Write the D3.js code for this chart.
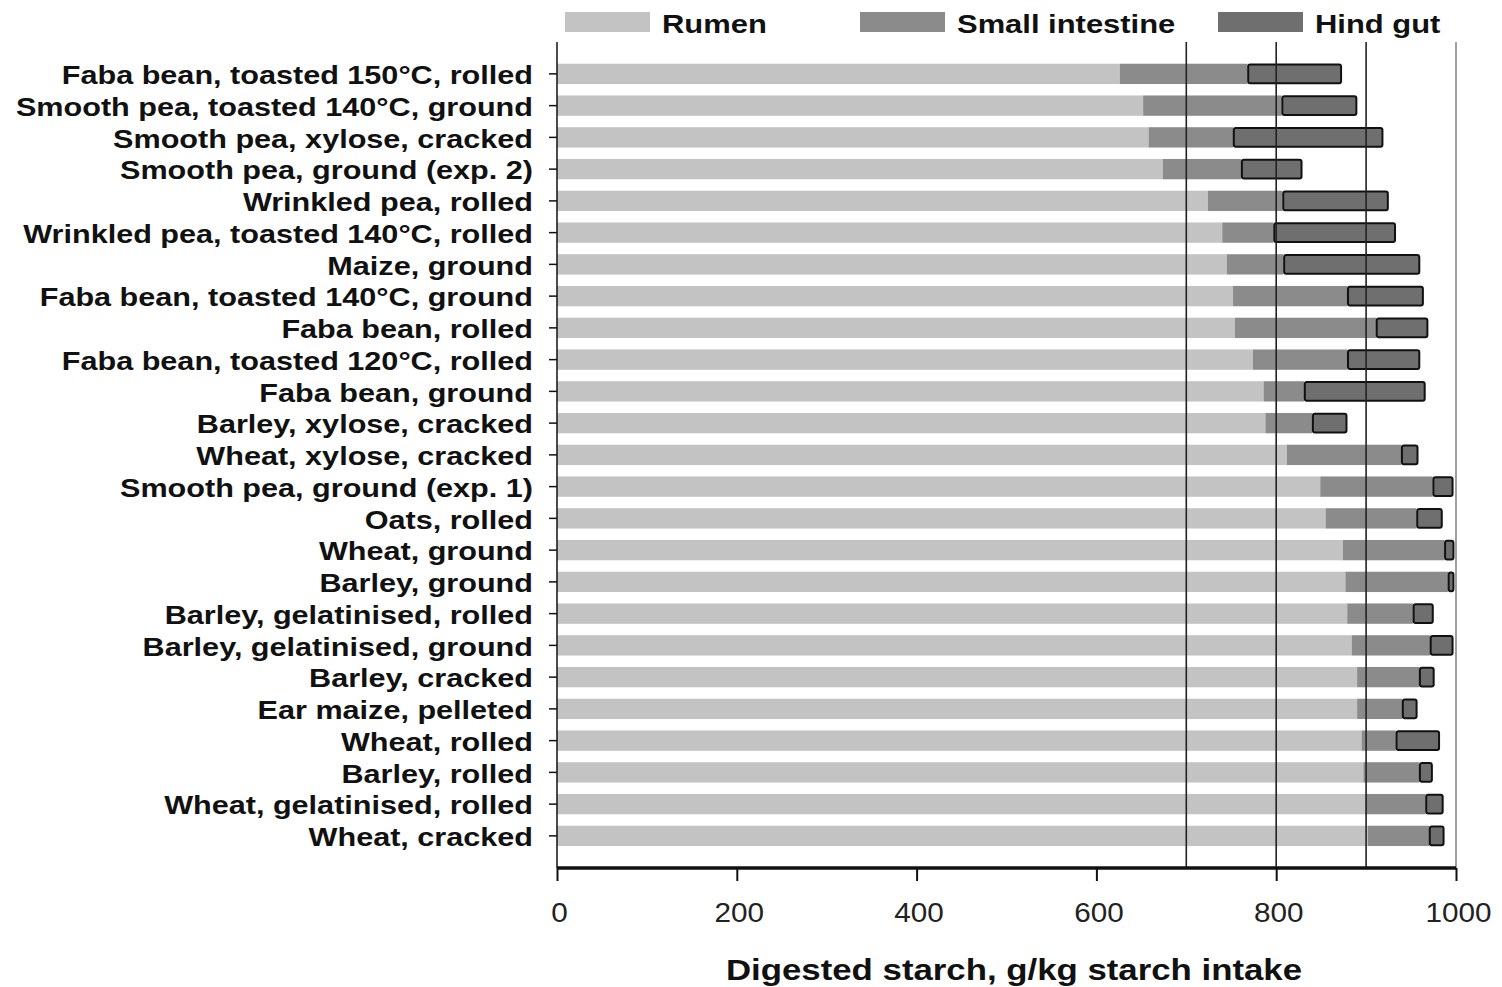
<!DOCTYPE html>
<html><head><meta charset="utf-8">
<script src="https://cdn.jsdelivr.net/npm/d3@7"></script>
<style>body{margin:0;background:#fff;font-family:"Liberation Sans",Arial,sans-serif}</style>
</head><body><svg id="c" width="1502" height="987"></svg>
<script>
const categories = ["Faba bean, toasted 150°C, rolled","Smooth pea, toasted 140°C, ground","Smooth pea, xylose, cracked","Smooth pea, ground (exp. 2)","Wrinkled pea, rolled","Wrinkled pea, toasted 140°C, rolled","Maize, ground","Faba bean, toasted 140°C, ground","Faba bean, rolled","Faba bean, toasted 120°C, rolled","Faba bean, ground","Barley, xylose, cracked","Wheat, xylose, cracked","Smooth pea, ground (exp. 1)","Oats, rolled","Wheat, ground","Barley, ground","Barley, gelatinised, rolled","Barley, gelatinised, ground","Barley, cracked","Ear maize, pelleted","Wheat, rolled","Barley, rolled","Wheat, gelatinised, rolled","Wheat, cracked"];
const rumen = [626,652,658,674,724,740,745,752,754,774,786,788,812,849,855,874,877,879,884,890,890,895,897,899,902];
const smallIntestine = [142,154,94,87,83,57,63,127,157,105,45,52,127,125,101,113,114,73,87,69,50,38,62,67,68];
const hindGut = [105,84,167,68,118,136,152,85,58,81,135,39,19,23,29,11,7,23,26,17,17,49,15,20,17];
const seriesNames = ["Rumen","Small intestine","Hind gut"];
const xTicks = [0,200,400,600,800,1000];
const refLines = [700,800,900];

const colors = ["#c3c3c3","#8b8b8b","#6f6f6f"];
const FONT = "'Liberation Sans',Arial,sans-serif";
const svg = d3.select("#c");
const x = d3.scaleLinear().domain([0,1000]).range([557,1456]);
const y = d3.scaleBand().domain(categories).range([58,851.75]).paddingInner(0.36).paddingOuter(0.18);

const rows = categories.map((c,i)=>({cat:c,"Rumen":rumen[i],"Small intestine":smallIntestine[i],"Hind gut":hindGut[i]}));
const stacked = d3.stack().keys(seriesNames)(rows);

stacked.forEach((s,si)=>{
  svg.append("g").selectAll("rect").data(s).join("rect")
    .attr("x",d=>x(d[0]) + (si===2?0.75:0))
    .attr("y",d=>y(d.data.cat) + (si===2?0.75:0))
    .attr("width",d=>Math.max(0,x(d[1])-x(d[0]) - (si===2?1.5:0)))
    .attr("height",y.bandwidth() - (si===2?1.5:0))
    .attr("rx",si===2?2:0)
    .attr("fill",colors[si])
    .attr("stroke",si===2?"#111":"none")
    .attr("stroke-width",si===2?2:0);
});

// reference lines
svg.append("g").selectAll("line").data(refLines).join("line")
  .attr("x1",d=>x(d)).attr("x2",d=>x(d)).attr("y1",42).attr("y2",868)
  .attr("stroke","#222").attr("stroke-width",1.6);
svg.append("line").attr("x1",x(1000)).attr("x2",x(1000)).attr("y1",42).attr("y2",868)
  .attr("stroke","#888").attr("stroke-width",1.6);

// y axis
const yAxis = svg.append("g").attr("transform","translate(557,0)")
  .call(d3.axisLeft(y).tickSize(8).tickPadding(15));
yAxis.select(".domain").attr("d","M0,42V868").attr("stroke","#111").attr("stroke-width",1.5);
yAxis.selectAll(".tick line").attr("stroke","#111").attr("stroke-width",1.5);
yAxis.selectAll(".tick text").attr("x",0).attr("transform","translate(-24,2) scale(1.2,1)")
  .attr("font-size",25.5).attr("font-weight","bold").attr("fill","#111").attr("font-family",FONT);

// x axis
const xAxis = svg.append("g").attr("transform","translate(0,868)")
  .call(d3.axisBottom(x).tickValues(xTicks).tickSize(13).tickPadding(14).tickFormat(d3.format("d")));
xAxis.select(".domain").attr("d","M557,0H1456").attr("stroke","#111").attr("stroke-width",3.5);
xAxis.selectAll(".tick line").attr("stroke","#111").attr("stroke-width",2);
xAxis.selectAll(".tick text").attr("y",0).attr("dy",0)
  .attr("transform","translate(2,54) scale(1.1,1)")
  .attr("font-size",27).attr("fill","#222").attr("font-family",FONT);

svg.append("text").attr("transform","translate(1014,980) scale(1.2,1)").attr("text-anchor","middle")
  .attr("font-size",29).attr("font-weight","bold").attr("fill","#111").attr("font-family",FONT)
  .text("Digested starch, g/kg starch intake");

// legend
const legX = [565,860,1218];
const leg = svg.append("g").selectAll("g").data(seriesNames).join("g")
  .attr("transform",(d,i)=>`translate(${legX[i]},12)`);
leg.append("rect").attr("width",85).attr("height",20).attr("fill",(d,i)=>colors[i]);
leg.append("text").attr("transform","translate(97,21) scale(1.19,1)").attr("font-size",26).attr("font-weight","bold")
  .attr("fill","#111").attr("font-family",FONT).text(d=>d);
</script></body></html>
